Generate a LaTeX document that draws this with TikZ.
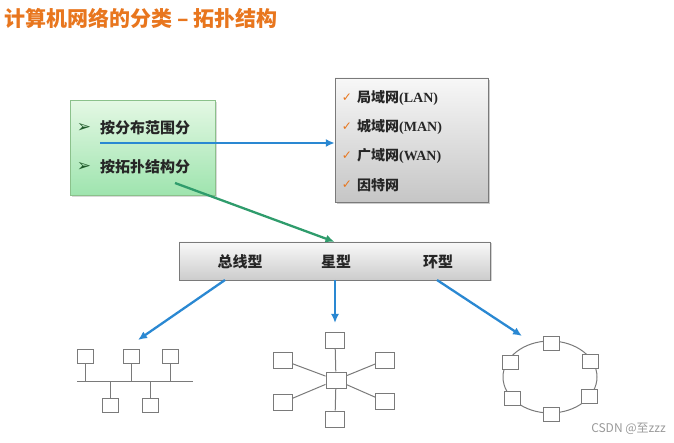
\documentclass[tikz,border=0pt]{standalone}
\usepackage{fontspec}
\setmainfont{Liberation Serif}
\newfontfamily\cjk{Noto Sans CJK SC}
\newfontfamily\sym{DejaVu Sans}
\usepackage{tikz}
\usetikzlibrary{shapes, arrows, arrows.meta, fit, shadows}
\usetikzlibrary{positioning}
\definecolor{titleorange}{HTML}{E8761E}
\definecolor{bulletgreen}{HTML}{1F5A2A}
\definecolor{linkblue}{HTML}{2A88D2}
\definecolor{linkgreen}{HTML}{2F9C6C}
\definecolor{boxline}{HTML}{7A7A7A}
\definecolor{greentop}{HTML}{E4F8E4}
\definecolor{greenbottom}{HTML}{9EE4AE}

\begin{document}
\begin{tikzpicture}[x=1pt, y=-1pt,
    pc/.style={draw=boxline, fill=white, line width=1pt, minimum width=16pt,
        minimum height=14pt, inner sep=0},
    wire/.style={draw=boxline, line width=1pt},
    item/.style={anchor=west, inner sep=0, font=\cjk\bfseries\fontsize{14}{16}\selectfont,
        text=black!85},
    link/.style={-{Latex[length=9pt, width=8pt]}, line width=2.3pt}]
    \useasboundingbox (0,0) rectangle (674,443);
    \node[anchor=west, inner sep=0, text=titleorange,
    font=\cjk\bfseries\fontsize{21}{24}\selectfont] (title) at (4,18)
    {计算机网络的分类 – 拓扑结构};
    % classification boxes
    \node[draw=green!30!gray!70, top color=greentop, bottom color=greenbottom,
    minimum width=145pt, minimum height=95pt,
    drop shadow={shadow xshift=1.5pt, shadow yshift=-1.5pt, opacity=0.3}]
    (way) at (142.5,148) {};
    \foreach[count=\j] \lj in {按分布范围分,按拓扑结构分} {
        \node[inner sep=0, text=bulletgreen, font=\sym\fontsize{17}{19}\selectfont]
        (b-\j) at (84,128+39*\j-39) {➢};
        \node[item, font=\cjk\bfseries\fontsize{15}{17}\selectfont] (w-\j)
        at (100,128+39*\j-39) {\lj};
    }
    \node[draw=boxline, top color=gray!6, bottom color=gray!45,
    minimum width=153pt, minimum height=124pt,
    drop shadow={shadow xshift=2pt, shadow yshift=-2pt, opacity=0.4}]
    (scope) at (411.5,140) {};
    \foreach[count=\j] \cn/\en in {局域网/(LAN),城域网/(MAN),广域网/(WAN),因特网/{}} {
        \node[inner sep=0, text=titleorange, font=\sym\bfseries\fontsize{12}{14}\selectfont]
        (c-\j) at (347,98+29*\j-29) {✓};
        \node[item] (s-\j) at (357,98+29*\j-29) {\cn{\normalfont\bfseries\en}};
    }
    \node[draw=boxline, top color=gray!5, bottom color=gray!40,
    minimum width=311pt, minimum height=38pt,
    drop shadow={shadow xshift=1.5pt, shadow yshift=-1.5pt, opacity=0.35}]
    (bar) at (334.5,261) {};
    \foreach[count=\j] \lj/\lx in {总线型/240,星型/336,环型/438} {
        \node[item, anchor=center, font=\cjk\bfseries\fontsize{15}{17}\selectfont]
        (t-\j) at (\lx,262) {\lj};
    }
    \coordinate (way-a) at (100,143);
    \coordinate (way-b) at (175,183);
    \draw[link, linkblue] (way-a) -- (scope.west |- way-a);
    \draw[link, linkgreen] (way-b) -- (bar.north);
    \coordinate (bar-1) at (225,280);
    \coordinate (bar-2) at (335,280);
    \coordinate (bar-3) at (437,280);
    \coordinate (bus-in) at (138,340);
    \coordinate (star-in) at (335,323);
    \coordinate (ring-in) at (522,336);
    \draw[link, linkblue] (bar-1) -- (bus-in);
    \draw[link, linkblue] (bar-2) -- (star-in);
    \draw[link, linkblue] (bar-3) -- (ring-in);
    % bus
    \coordinate (bus-l) at (77,381);
    \coordinate (bus-r) at (193,381);
    \draw[wire] (bus-l) -- (bus-r);
    \foreach[count=\j] \bx in {85,131,170} {
        \node[pc] (bu-\j) at (\bx,356) {};
        \draw[wire] (bu-\j.south) -- (bu-\j.south |- bus-l);
    }
    \foreach[count=\j] \bx in {110,150} {
        \node[pc] (bd-\j) at (\bx,405.5) {};
        \draw[wire] (bd-\j.north) -- (bd-\j.north |- bus-l);
    }
    % star
    \node[pc, minimum width=20pt, minimum height=16pt] (hub) at (336,380) {};
    \foreach[count=\j] \sx/\sy in {335/340,282.5/360,385/360,282.5/402.5,385/401.5,335/419} {
        \node[pc, minimum width=19pt, minimum height=16pt] (st-\j) at (\sx,\sy) {};
        \draw[wire] (hub) -- (st-\j);
    }
    % ring
    \draw[wire] (550,377) ellipse [x radius=47, y radius=36];
    \foreach[count=\j] \rx/\ry in {551/343,590/361,589/396,551/414,512/398,510/362} {
        \node[pc] (ri-\j) at (\rx,\ry) {};
    }
    \node[anchor=east, inner sep=0, text=gray!80,
    font=\cjk\fontsize{12}{14}\selectfont] (mark) at (666,429) {CSDN @至zzz};
\end{tikzpicture}
\end{document}
